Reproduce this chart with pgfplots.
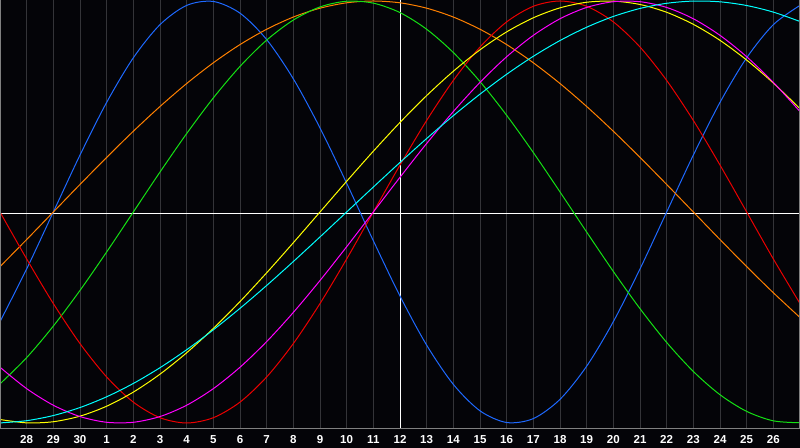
\documentclass[border=0pt]{standalone}
\usepackage{fontspec}
\setmainfont{Liberation Sans}
\usepackage{pgfplots}
\pgfplotsset{compat=1.18}
\definecolor{bgc}{RGB}{4,4,8}
\definecolor{gridc}{RGB}{52,52,56}
\definecolor{framec}{RGB}{128,128,128}
\definecolor{cblue}{RGB}{30,105,255}
\definecolor{cred}{RGB}{235,0,0}
\definecolor{cgreen}{RGB}{20,225,20}
\definecolor{cmag}{RGB}{255,0,255}
\definecolor{cyel}{RGB}{255,255,0}
\definecolor{corange}{RGB}{255,128,0}
\definecolor{ccyan}{RGB}{0,255,255}
\begin{document}
\begin{tikzpicture}
\fill[bgc] (0,-20bp) rectangle (800bp,428bp);
\begin{axis}[
  at={(0,0)}, anchor=south west,
  scale only axis, width=800bp, height=428bp,
  xmin=0, xmax=30, ymin=-1.0237, ymax=1.0047,
  axis line style={draw=none},
  xtick={1,...,29},
  xticklabels={28,29,30,1,2,3,4,5,6,7,8,9,10,11,12,13,14,15,16,17,18,19,20,21,22,23,24,25,26},
  ytick=\empty,
  major tick length=0pt,
  xmajorgrids,
  grid style={gridc, line width=1bp},
  xticklabel style={anchor=base, yshift=-15.3bp, font=\fontsize{11.6}{13}\selectfont\bfseries, text=white},
  every axis plot/.append style={line width=1bp, no markers},
]
\addplot[white, line width=1bp] coordinates {(0,-0.006) (30,-0.006)};
\addplot[white, line width=1bp] coordinates {(15,-1.0237) (15,1.0047)};
% physical 23
\addplot[cblue, smooth] coordinates {
(0,-0.5196) (1,-0.2698) (2,0) (3,0.2698) (4,0.5196) (5,0.7308) (6,0.8879) (7,0.9791) (8,0.9977) (9,0.9423)
(10,0.8170) (11,0.6311) (12,0.3984) (13,0.1362) (14,-0.1362) (15,-0.3984) (16,-0.6311) (17,-0.8170) (18,-0.9423) (19,-0.9977)
(20,-0.9791) (21,-0.8879) (22,-0.7308) (23,-0.5196) (24,-0.2698) (25,0) (26,0.2698) (27,0.5196) (28,0.7308) (29,0.8879) (30,0.9791)};
% awareness 48
\addplot[corange, smooth] coordinates {
(0,-0.2588) (1,-0.1305) (2,0) (3,0.1305) (4,0.2588) (5,0.3827) (6,0.5) (7,0.6088) (8,0.7071) (9,0.7934)
(10,0.8660) (11,0.9239) (12,0.9659) (13,0.9914) (14,1) (15,0.9914) (16,0.9659) (17,0.9239) (18,0.8660) (19,0.7934)
(20,0.7071) (21,0.6088) (22,0.5) (23,0.3827) (24,0.2588) (25,0.1305) (26,0) (27,-0.1305) (28,-0.2588) (29,-0.3827) (30,-0.5)};
% intellectual 33
\addplot[cgreen, smooth] coordinates {
(0,-0.8146) (1,-0.6901) (2,-0.5406) (3,-0.3717) (4,-0.1893) (5,0) (6,0.1893) (7,0.3717) (8,0.5406) (9,0.6901)
(10,0.8146) (11,0.9096) (12,0.9718) (13,0.9989) (14,0.9898) (15,0.9450) (16,0.8660) (17,0.7557) (18,0.6182) (19,0.4582)
(20,0.2817) (21,0.0951) (22,-0.0951) (23,-0.2817) (24,-0.4582) (25,-0.6182) (26,-0.7557) (27,-0.8660) (28,-0.9450) (29,-0.9898) (30,-0.9989)};
% emotional 28
\addplot[cred, smooth] coordinates {
(0,0) (1,-0.2225) (2,-0.4339) (3,-0.6235) (4,-0.7818) (5,-0.9010) (6,-0.9749) (7,-1) (8,-0.9749) (9,-0.9010)
(10,-0.7818) (11,-0.6235) (12,-0.4339) (13,-0.2225) (14,0) (15,0.2225) (16,0.4339) (17,0.6235) (18,0.7818) (19,0.9010)
(20,0.9749) (21,1) (22,0.9749) (23,0.9010) (24,0.7818) (25,0.6235) (26,0.4339) (27,0.2225) (28,0) (29,-0.2225) (30,-0.4339)};
% aesthetic 43
\addplot[cyel, smooth] coordinates {
(0,-0.9834) (1,-0.9993) (2,-0.9940) (3,-0.9675) (4,-0.9204) (5,-0.8536) (6,-0.7686) (7,-0.6671) (8,-0.5517) (9,-0.4245)
(10,-0.2881) (11,-0.1456) (12,0) (13,0.1456) (14,0.2881) (15,0.4245) (16,0.5517) (17,0.6671) (18,0.7686) (19,0.8536)
(20,0.9204) (21,0.9675) (22,0.9940) (23,0.9993) (24,0.9834) (25,0.9465) (26,0.8893) (27,0.8135) (28,0.7200) (29,0.6112) (30,0.4894)};
% intuitive 38
\addplot[cmag, smooth] coordinates {
(0,-0.7357) (1,-0.8372) (2,-0.9158) (3,-0.9694) (4,-0.9966) (5,-0.9966) (6,-0.9694) (7,-0.9158) (8,-0.8372) (9,-0.7357)
(10,-0.6142) (11,-0.4759) (12,-0.3247) (13,-0.1646) (14,0) (15,0.1646) (16,0.3247) (17,0.4759) (18,0.6142) (19,0.7357)
(20,0.8372) (21,0.9158) (22,0.9694) (23,0.9966) (24,0.9966) (25,0.9694) (26,0.9158) (27,0.8372) (28,0.7357) (29,0.6142) (30,0.4759)};
% spiritual 53
\addplot[ccyan, smooth] coordinates {
(0,-0.9996) (1,-0.9890) (2,-0.9646) (3,-0.9267) (4,-0.8757) (5,-0.8126) (6,-0.7379) (7,-0.6528) (8,-0.5584) (9,-0.4566)
(10,-0.3482) (11,-0.2348) (12,-0.1182) (13,0) (14,0.1182) (15,0.2348) (16,0.3482) (17,0.4566) (18,0.5585) (19,0.6528)
(20,0.7379) (21,0.8126) (22,0.8757) (23,0.9267) (24,0.9646) (25,0.9890) (26,0.9996) (27,0.9961) (28,0.9785) (29,0.9473) (30,0.9028)};
\end{axis}
\draw[framec, line width=1bp] (0.5bp,428bp) -- (0.5bp,-0.5bp) -- (799.5bp,-0.5bp) -- (799.5bp,428bp);
\pgfresetboundingbox
\useasboundingbox (0,-20bp) rectangle (800bp,428bp);
\end{tikzpicture}
\end{document}
